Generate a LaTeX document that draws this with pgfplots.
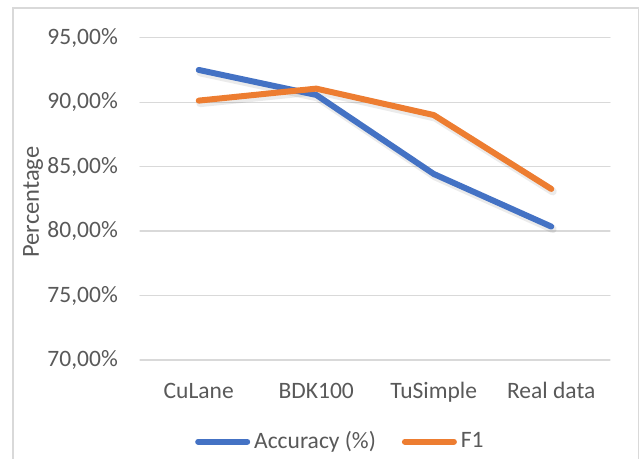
\documentclass[border=0pt]{standalone}
\usepackage{pgfplots}
\pgfplotsset{compat=1.18}
\usepackage{fontspec}
\setmainfont{Carlito}
\definecolor{accblue}{HTML}{4472C4}
\definecolor{f1orange}{HTML}{ED7D31}
\definecolor{gridgray}{HTML}{D9D9D9}
\definecolor{txtgray}{HTML}{595959}
\begin{document}
\fontsize{23.5bp}{28bp}\selectfont
\begin{tikzpicture}
\useasboundingbox (-140bp,-99bp) rectangle (504bp,360bp);
\draw[color=gridgray, line width=1.5bp] (-127bp,-110bp) rectangle (498.5bp,352bp);
\begin{axis}[
  at={(0,0)}, anchor=south west,
  scale only axis,
  width=470bp, height=322.3bp,
  xmin=-0.5, xmax=3.5, ymin=70, ymax=95,
  axis line style={draw=none},
  major tick style={draw=none},
  ymajorgrids,
  grid style={color=gridgray, line width=1.3bp},
  xtick={0,1,2,3},
  xticklabels={CuLane,BDK100,TuSimple,Real data},
  ytick={70,75,80,85,90,95},
  yticklabels={{70,00\%},{75,00\%},{80,00\%},{85,00\%},{90,00\%},{95,00\%}},
  ticklabel style={font=\fontsize{23.5bp}{28bp}\selectfont, text=txtgray},
  yticklabel style={anchor=east, inner sep=0pt, xshift=-22bp},
  xticklabel style={anchor=base, inner sep=0pt, yshift=-38bp},
  legend columns=2,
  legend style={at={(axis description cs:0.117,-0.2535)}, anchor=west, draw=none, inner sep=0pt, font=\fontsize{23.5bp}{28bp}\selectfont, text=txtgray,
    /tikz/every odd column/.append style={column sep=4bp},
    /tikz/every even column/.append style={column sep=26bp},
    nodes={inner sep=0pt, anchor=west}},
  legend image code/.code={\draw[#1, line width=6bp, line cap=round] (3bp,0bp) -- (52bp,0bp);},
  line cap=round, line join=round,
]
\addplot[black, opacity=0.08, line width=8bp, forget plot, shift={(1.5bp,-2.5bp)}] coordinates {(0,92.5) (1,90.56) (2,84.43) (3,80.35)};
\addplot[black, opacity=0.08, line width=8bp, forget plot, shift={(1.5bp,-2.5bp)}] coordinates {(0,90.12) (1,91.05) (2,89.0) (3,83.27)};
\addplot[accblue, line width=6bp] coordinates {(0,92.5) (1,90.56) (2,84.43) (3,80.35)};
\addlegendentry{Accuracy (\%)}
\addplot[f1orange, line width=6bp] coordinates {(0,90.12) (1,91.05) (2,89.0) (3,83.27)};
\addlegendentry{F1}
\end{axis}
\node[rotate=90, text=txtgray, inner sep=0pt, font=\fontsize{24.5bp}{29bp}\selectfont] at (-107bp,158bp) {Percentage};
\end{tikzpicture}
\end{document}
